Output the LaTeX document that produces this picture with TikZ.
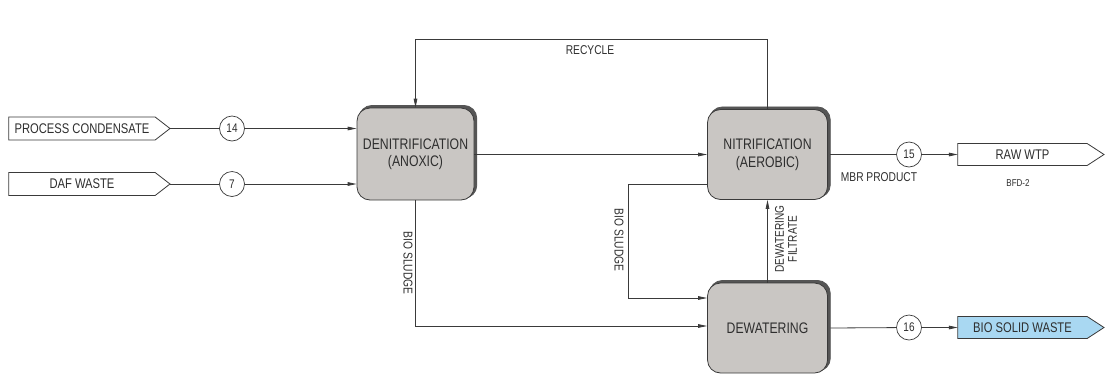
\documentclass[tikz,border=0pt]{standalone}
\usepackage{fontspec}
\setmainfont[FakeStretch=0.8]{Liberation Sans}
\usetikzlibrary{arrows.meta,backgrounds,calc}
\definecolor{lc}{HTML}{3A3A3A}
\definecolor{txt}{HTML}{2E2E2E}
\definecolor{boxgray}{HTML}{C9C6C3}
\definecolor{shadowgray}{HTML}{555555}
\definecolor{lblue}{HTML}{A9D8F2}
\tikzset{
  ln/.style={draw=lc, line width=0.8pt},
  arr/.style={ln, -{Triangle[length=9pt,width=3.6pt]}},
  num/.style={circle, draw=lc, line width=0.7pt, fill=white, minimum size=25pt, inner sep=0pt, text=txt, font=\fontsize{12.5}{14}\selectfont},
  proc/.style={rectangle, rounded corners=13pt, draw=lc, line width=0.8pt, fill=boxgray,
     minimum width=120pt, minimum height=90pt, align=center, text=txt,
     font=\fontsize{15.3}{17.5}\selectfont},
  shade/.style={rounded corners=13pt, fill=shadowgray, draw=shadowgray, line width=0.8pt},
  stream/.style={rectangle, inner sep=0pt, minimum width=146pt, minimum height=22.5pt, text=txt, font=\fontsize{14}{16}\selectfont},
  streamout/.style={rectangle, inner sep=0pt, minimum width=129pt, minimum height=21.5pt, text=txt, font=\fontsize{14}{16}\selectfont},
  pent/.style={draw=lc, line width=0.8pt},
  lbl/.style={text=txt, inner sep=0pt, font=\fontsize{12.8}{13}\selectfont, align=center},
  small/.style={text=txt, inner sep=0pt, font=\fontsize{10}{12}\selectfont}
}
\begin{document}
\begin{tikzpicture}[x=1pt,y=-1pt]
\useasboundingbox (0,0) rectangle (1107,381);

% process boxes
\node[proc, minimum width=117pt, minimum height=92pt] (den) at (415.5,154) {DENITRIFICATION\\(ANOXIC)};
\node[proc] (nit) at (767.5,154.5) {NITRIFICATION\\(AEROBIC)};
\node[proc] (dew) at (767.5,328) {DEWATERING};
\begin{pgfonlayer}{background}
\foreach \b in {den,nit,dew}{
  \draw[shade] ($(\b.south west)+(2.4,-2.2)$) rectangle ($(\b.north east)+(2.4,-2.2)$);
}
\end{pgfonlayer}

% input streams
\node[stream] (pc) at (82,128.5) {PROCESS CONDENSATE};
\coordinate (pctip) at (170,128.5);
\node[stream] (daf) at (82,184) {DAF WASTE};
\coordinate (daftip) at (170,184);
\begin{pgfonlayer}{background}
\draw[pent, fill=white] (pc.north west) -- (pc.north east) -- (pctip) -- (pc.south east) -- (pc.south west) -- cycle;
\draw[pent, fill=white] (daf.north west) -- (daf.north east) -- (daftip) -- (daf.south east) -- (daf.south west) -- cycle;
\end{pgfonlayer}

\node[num] (n14) at (232,128.5) {14};
\node[num] (n7) at (232,184) {7};

% output streams
\node[streamout] (raw) at (1022.5,154.5) {RAW WTP};
\coordinate (rawtip) at (1104,154.5);
\node[streamout] (bsw) at (1022.5,327.5) {BIO SOLID WASTE};
\coordinate (bswtip) at (1104,327.5);
\begin{pgfonlayer}{background}
\draw[pent, fill=white] (raw.north west) -- (raw.north east) -- (rawtip) -- (raw.south east) -- (raw.south west) -- cycle;
\draw[pent, fill=lblue] (bsw.north west) -- (bsw.north east) -- (bswtip) -- (bsw.south east) -- (bsw.south west) -- cycle;
\end{pgfonlayer}

\node[num] (n15) at (909,154.5) {15};
\node[num] (n16) at (909,327.5) {16};

% connectors
\draw[ln] (pctip) -- (n14);
\draw[arr] (n14) -- (n14 -| den.west);
\draw[ln] (daftip) -- (n7);
\draw[arr] (n7) -- (n7 -| den.west);

\draw[arr] (den.east |- nit.west) -- (nit.west);

\coordinate (rctop) at (767.5,39);
\draw[arr] (nit.north) -- (rctop) -| (den.north);
\node[lbl] (rclbl) at (590,50) {RECYCLE};

\draw[ln] ($(nit.east)+(2.4,0)$) -- (n15);
\draw[arr] (n15) -- (raw.west);
\node[lbl] (mbr) at (879,177) {MBR PRODUCT};
\node[small] (bfd) at (1018,183) {BFD-2};

\coordinate (bs1) at (415.5,326);
\draw[arr] (den.south) -- (bs1) -- (bs1 -| dew.west);
\node[lbl, rotate=-90] (bs1lbl) at (408,263) {BIO SLUDGE};

\coordinate (bs2a) at (707,184);
\coordinate (bs2b) at (628,298);
\draw[arr] (bs2a) -| (bs2b) -- (bs2b -| dew.west);
\node[lbl, rotate=-90] (bs2lbl) at (619,240) {BIO SLUDGE};

\draw[arr] (dew.north) -- (nit.south);
\node[lbl, rotate=90, font=\fontsize{12.6}{13}\selectfont] (fil) at (786,239) {DEWATERING\\FILTRATE};

\draw[ln] ($(dew.east)+(2.4,0)$) -- (n16);
\draw[arr] (n16) -- (bsw.west);
\end{tikzpicture}
\end{document}
